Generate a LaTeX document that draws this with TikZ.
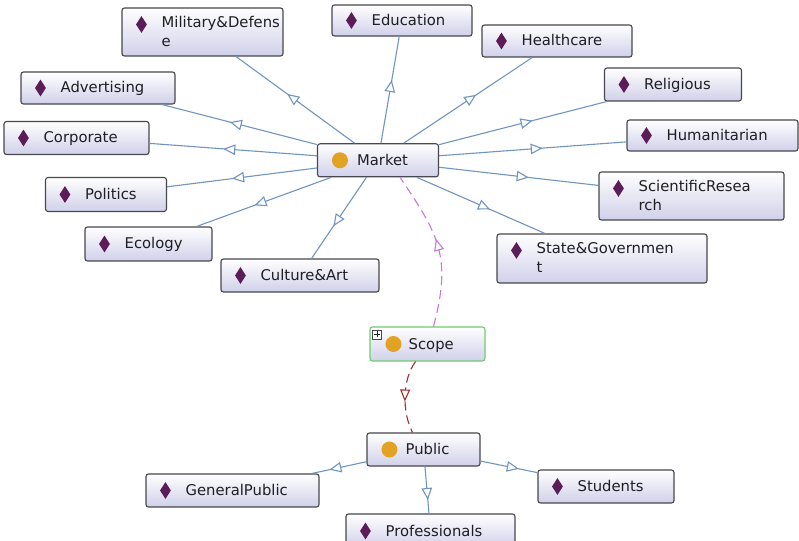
\documentclass[tikz,border=0pt]{standalone}
\usepackage{fontspec}
\setmainfont{DejaVu Sans}
\usetikzlibrary{arrows.meta,decorations.markings,shapes.geometric}
\definecolor{edgeblue}{RGB}{112,150,192}
\definecolor{boxborder}{RGB}{72,72,78}
\definecolor{boxbot}{RGB}{208,208,234}
\definecolor{dia}{RGB}{92,28,88}
\definecolor{gold}{RGB}{226,163,36}
\definecolor{scopegreen}{RGB}{110,205,110}
\definecolor{violetdash}{RGB}{200,120,215}
\definecolor{reddash}{RGB}{165,45,45}
\definecolor{txt}{RGB}{30,30,35}
\tikzset{
  box/.style={draw=boxborder, line width=1.1bp, rounded corners=2.5bp, top color=white, bottom color=boxbot, inner sep=0pt},
  diam/.style={diamond, fill=dia, draw=none, inner sep=0pt, minimum width=11bp, minimum height=17bp},
  dot/.style={circle, fill=gold, draw=none, inner sep=0pt, minimum size=16bp},
  lbl/.style={inner sep=0pt, text=txt, align=left, font=\fontsize{14.8bp}{18.5bp}\selectfont},
  subedge/.style={color=edgeblue, line width=1.1bp, postaction={decorate},
    decoration={markings, mark=at position 0.5 with {\arrow[xshift=10bp]{Triangle[length=12bp,width=10.5bp,fill=white,line width=1.1bp]}}}},
  scopeedge/.style={color=violetdash, line width=1.1bp, dash pattern=on 9bp off 5bp, postaction={decorate},
    decoration={markings, mark=at position 0.5 with {\arrow[xshift=9bp]{Triangle[length=12bp,width=10bp,fill=white,line width=1.1bp]}}}},
  publicedge/.style={color=reddash, line width=1.1bp, dash pattern=on 9bp off 5bp, postaction={decorate},
    decoration={markings, mark=at position 0.5 with {\arrow[xshift=5bp]{Triangle[length=12bp,width=10bp,fill=white,line width=1.1bp]}}}},
}
% name, cx, cy, w, h, label  (one line)
\newcommand\clsone[6]{%
  \node[box, minimum width=#4bp, minimum height=#5bp] (#1) at (#2,#3) {};
  \node[diam] (#1d) at ([xshift=20bp]#1.west) {};
  \node[lbl, anchor=base west] (#1t) at ([xshift=40bp, yshift=-5bp]#1.west) {#6};
}
% name, cx, cy, w, h, label (two lines)
\newcommand\clstwo[6]{%
  \node[box, minimum width=#4bp, minimum height=#5bp] (#1) at (#2,#3) {};
  \node[diam] (#1d) at ([xshift=20bp, yshift=-17bp]#1.north west) {};
  \node[lbl, anchor=north west] (#1t) at ([xshift=40bp, yshift=-9bp]#1.north west) {#6};
}
\begin{document}
\begin{tikzpicture}[x=1bp, y=-1bp]
\useasboundingbox (0,0) rectangle (799,541);
\fill[white] (0,0) rectangle (799,541);
\clip (0,0) rectangle (799,541);

% classes around Market
\clstwo{mil}{202.5}{32}{161}{48}{Military\&Defens\\e}
\clsone{edu}{402}{20.5}{140}{31}{Education}
\clsone{hea}{557}{41}{150}{32}{Healthcare}
\clsone{adv}{98}{88}{154}{32}{Advertising}
\clsone{rel}{673}{84.5}{137}{33}{Religious}
\clsone{cor}{76.5}{138}{145}{33}{Corporate}
\clsone{hum}{712.5}{135.5}{171}{31}{Humanitarian}
\clsone{pol}{106}{194.5}{121}{34}{Politics}
\clstwo{sci}{691.5}{196}{185}{48}{ScientificResea\\rch}
\clsone{eco}{148.5}{244}{127}{34}{Ecology}
\clstwo{sta}{602}{258.5}{210}{49}{State\&Governmen\\t}
\clsone{cul}{300}{275.5}{158}{33}{Culture\&Art}

% Market
\node[box, minimum width=121bp, minimum height=33bp] (mkt) at (378,160.3) {};
\node[dot] (mktd) at ([xshift=23bp]mkt.west) {};
\node[lbl, anchor=base west] (mktt) at ([xshift=40bp, yshift=-5bp]mkt.west) {Market};

% Scope
\node[box, draw=scopegreen, minimum width=115bp, minimum height=34bp] (scp) at (427.5,344) {};
\node[dot] (scpd) at ([xshift=24bp]scp.west) {};
\node[lbl, anchor=base west] (scpt) at ([xshift=39bp, yshift=-5bp]scp.west) {Scope};
\node[draw=boxborder, fill=white, line width=0.6bp, minimum size=9bp, inner sep=0pt] (scpplus) at ([xshift=7.5bp, yshift=-8bp]scp.north west) {};
\draw[line width=0.8bp, txt] ([xshift=-3bp]scpplus.center) -- ([xshift=3bp]scpplus.center);
\draw[line width=0.8bp, txt] ([yshift=-3bp]scpplus.center) -- ([yshift=3bp]scpplus.center);

% Public
\node[box, minimum width=113bp, minimum height=33bp] (pub) at (423.5,449.5) {};
\node[dot] (pubd) at ([xshift=23bp]pub.west) {};
\node[lbl, anchor=base west] (pubt) at ([xshift=39bp, yshift=-5bp]pub.west) {Public};

\clsone{gen}{232.5}{490.5}{173}{33}{GeneralPublic}
\clsone{stu}{606}{486.5}{136}{33}{Students}
\clsone{pro}{430.5}{531}{169}{34}{Professionals}

% subclass edges
\foreach \c in {mil,edu,hea,adv,rel,cor,hum,pol,sci,eco,sta,cul}{
  \draw[subedge] (mkt) -- (\c);
}
\foreach \c in {gen,stu,pro}{
  \draw[subedge] (pub) -- (\c);
}

% dashed relations
\draw[scopeedge] ([xshift=6bp]scp.north) .. controls (452,257) and (439,235) .. ([xshift=22bp]mkt.south);
\draw[publicedge] ([xshift=-12bp]scp.south) .. controls (402,380) and (402,412) .. ([xshift=-11bp]pub.north);
\end{tikzpicture}
\end{document}
